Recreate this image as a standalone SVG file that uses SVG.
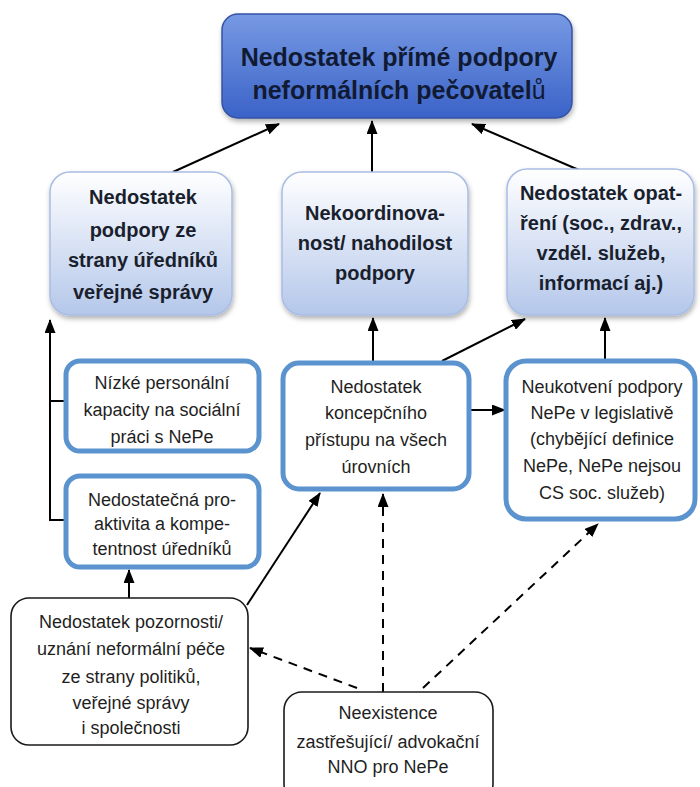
<svg xmlns="http://www.w3.org/2000/svg" width="700" height="787" viewBox="0 0 700 787">
<style>
text{font-family:"Liberation Sans","DejaVu Sans",sans-serif;fill:#1f1f1f;text-anchor:middle}
.t1{font-size:25px;font-weight:bold;fill:#111a33}
.t2{font-size:20px;font-weight:bold;fill:#1a1f2e}
.t3{font-size:18px}
.blue{fill:#fff;stroke:#5b93cf;stroke-width:5}
.plain{fill:#fff;stroke:#1a1a1a;stroke-width:1.6}
.mid{fill:url(#gMid);stroke:#a8bde4;stroke-width:1.5}
.ln{stroke:#000;stroke-width:2;fill:none}
.dash{stroke:#000;stroke-width:2;fill:none;stroke-dasharray:9 7}
</style>
<defs>
<linearGradient id="gTop" x1="0" y1="0" x2="0" y2="1">
<stop offset="0" stop-color="#7799e3"/><stop offset="1" stop-color="#3b63c8"/>
</linearGradient>
<linearGradient id="gMid" x1="0" y1="0" x2="0" y2="1">
<stop offset="0" stop-color="#ffffff"/><stop offset="1" stop-color="#b4c7ea"/>
</linearGradient>
<filter id="sh" x="-10%" y="-10%" width="125%" height="130%">
<feDropShadow dx="1" dy="3" stdDeviation="2.5" flood-color="#000" flood-opacity="0.3"/>
</filter>
<marker id="ar" viewBox="0 0 14 11" refX="13" refY="5.5" markerWidth="7" markerHeight="5.5" markerUnits="strokeWidth" orient="auto">
<path d="M0,0 L14,5.5 L0,11 Z" fill="#000"/>
</marker>
</defs>
<rect width="700" height="787" fill="#fff"/>

<g id="connectors">
<line class="ln" x1="173" y1="172" x2="279" y2="124" marker-end="url(#ar)"/>
<line class="ln" x1="372" y1="172" x2="372" y2="121" marker-end="url(#ar)"/>
<line class="ln" x1="579" y1="170" x2="472" y2="124" marker-end="url(#ar)"/>
<line class="ln" x1="373" y1="362" x2="373" y2="318" marker-end="url(#ar)"/>
<line class="ln" x1="442" y1="361" x2="525" y2="319" marker-end="url(#ar)"/>
<line class="ln" x1="605" y1="359" x2="605" y2="318" marker-end="url(#ar)"/>
<line class="ln" x1="470" y1="410" x2="505" y2="410" marker-end="url(#ar)"/>
<polyline class="ln" points="65,520 50,520 50,320" marker-end="url(#ar)"/>
<line class="ln" x1="50" y1="401" x2="65" y2="401"/>
<line class="ln" x1="129" y1="598" x2="129" y2="570" marker-end="url(#ar)"/>
<line class="ln" x1="247" y1="605" x2="320" y2="493" marker-end="url(#ar)"/>
<line class="dash" x1="383" y1="692" x2="383" y2="494" marker-end="url(#ar)"/>
<line class="dash" x1="357" y1="688" x2="250" y2="648" marker-end="url(#ar)"/>
<line class="dash" x1="423" y1="688" x2="598" y2="524" marker-end="url(#ar)"/>
</g>

<g id="n-top">
<rect x="222" y="14" width="350" height="104" rx="16" fill="url(#gTop)" stroke="#3453a4" stroke-width="1.5" filter="url(#sh)"/>
<text class="t1" x="399" y="66">Nedostatek přímé podpory</text>
<text class="t1" x="399" y="99">neformálních pečovatel<tspan font-weight="normal">ů</tspan></text>
</g>

<g id="n-urednici">
<rect class="mid" x="50" y="172" width="182" height="143" rx="20" filter="url(#sh)"/>
<text class="t2" x="143" y="204">Nedostatek</text>
<text class="t2" x="143" y="237">podpory ze</text>
<text class="t2" x="143" y="267">strany úředníků</text>
<text class="t2" x="143" y="299">veřejné správy</text>
</g>

<g id="n-nekoord">
<rect class="mid" x="282" y="172" width="186" height="143" rx="20" filter="url(#sh)"/>
<text class="t2" x="375" y="220">Nekoordinova-</text>
<text class="t2" x="375" y="250">nost/ nahodilost</text>
<text class="t2" x="375" y="280">podpory</text>
</g>

<g id="n-opatreni">
<rect class="mid" x="507" y="169" width="187" height="146" rx="20" filter="url(#sh)"/>
<text class="t2" x="601" y="200">Nedostatek opat-</text>
<text class="t2" x="601" y="230">ření (soc., zdrav.,</text>
<text class="t2" x="601" y="260">vzděl. služeb,</text>
<text class="t2" x="601" y="290">informací aj.)</text>
</g>

<g id="n-kapacity">
<rect class="blue" x="66" y="361" width="193" height="90" rx="14"/>
<text class="t3" x="162" y="389" font-size="17.5">Nízké personální</text>
<text class="t3" x="162" y="416" font-size="17.5">kapacity na sociální</text>
<text class="t3" x="162" y="443" font-size="17.5">práci s NePe</text>
</g>

<g id="n-proaktivita">
<rect class="blue" x="66" y="476" width="193" height="91" rx="14"/>
<text class="t3" x="162" y="506">Nedostatečná pro-</text>
<text class="t3" x="162" y="530">aktivita a kompe-</text>
<text class="t3" x="162" y="555">tentnost úředníků</text>
</g>

<g id="n-koncepce">
<rect class="blue" x="283" y="363" width="186" height="126" rx="16"/>
<text class="t3" x="376" y="393">Nedostatek</text>
<text class="t3" x="376" y="419">koncepčního</text>
<text class="t3" x="376" y="446">přístupu na všech</text>
<text class="t3" x="376" y="473">úrovních</text>
</g>

<g id="n-legislativa">
<rect class="blue" x="506" y="361" width="189" height="158" rx="20"/>
<text class="t3" x="602" y="393" font-size="18.5">Neukotvení podpory</text>
<text class="t3" x="602" y="419" font-size="18.5">NePe v legislativě</text>
<text class="t3" x="602" y="445" font-size="18.5">(chybějící definice</text>
<text class="t3" x="602" y="472" font-size="18.5">NePe, NePe nejsou</text>
<text class="t3" x="602" y="499" font-size="18.5">CS soc. služeb)</text>
</g>

<g id="n-pozornost">
<rect class="plain" x="11" y="598" width="237" height="147" rx="18"/>
<text class="t3" x="131" y="628" font-size="19">Nedostatek pozornosti/</text>
<text class="t3" x="131" y="655" font-size="19">uznání neformální péče</text>
<text class="t3" x="131" y="683" font-size="19">ze strany politiků,</text>
<text class="t3" x="131" y="709" font-size="19">veřejné správy</text>
<text class="t3" x="131" y="734" font-size="19">i společnosti</text>
</g>

<g id="n-nno">
<rect class="plain" x="284" y="692" width="209" height="110" rx="18"/>
<text class="t3" x="388" y="719" font-size="19">Neexistence</text>
<text class="t3" x="388" y="748" font-size="19">zastřešující/ advokační</text>
<text class="t3" x="388" y="773" font-size="19">NNO pro NePe</text>
</g>
</svg>
